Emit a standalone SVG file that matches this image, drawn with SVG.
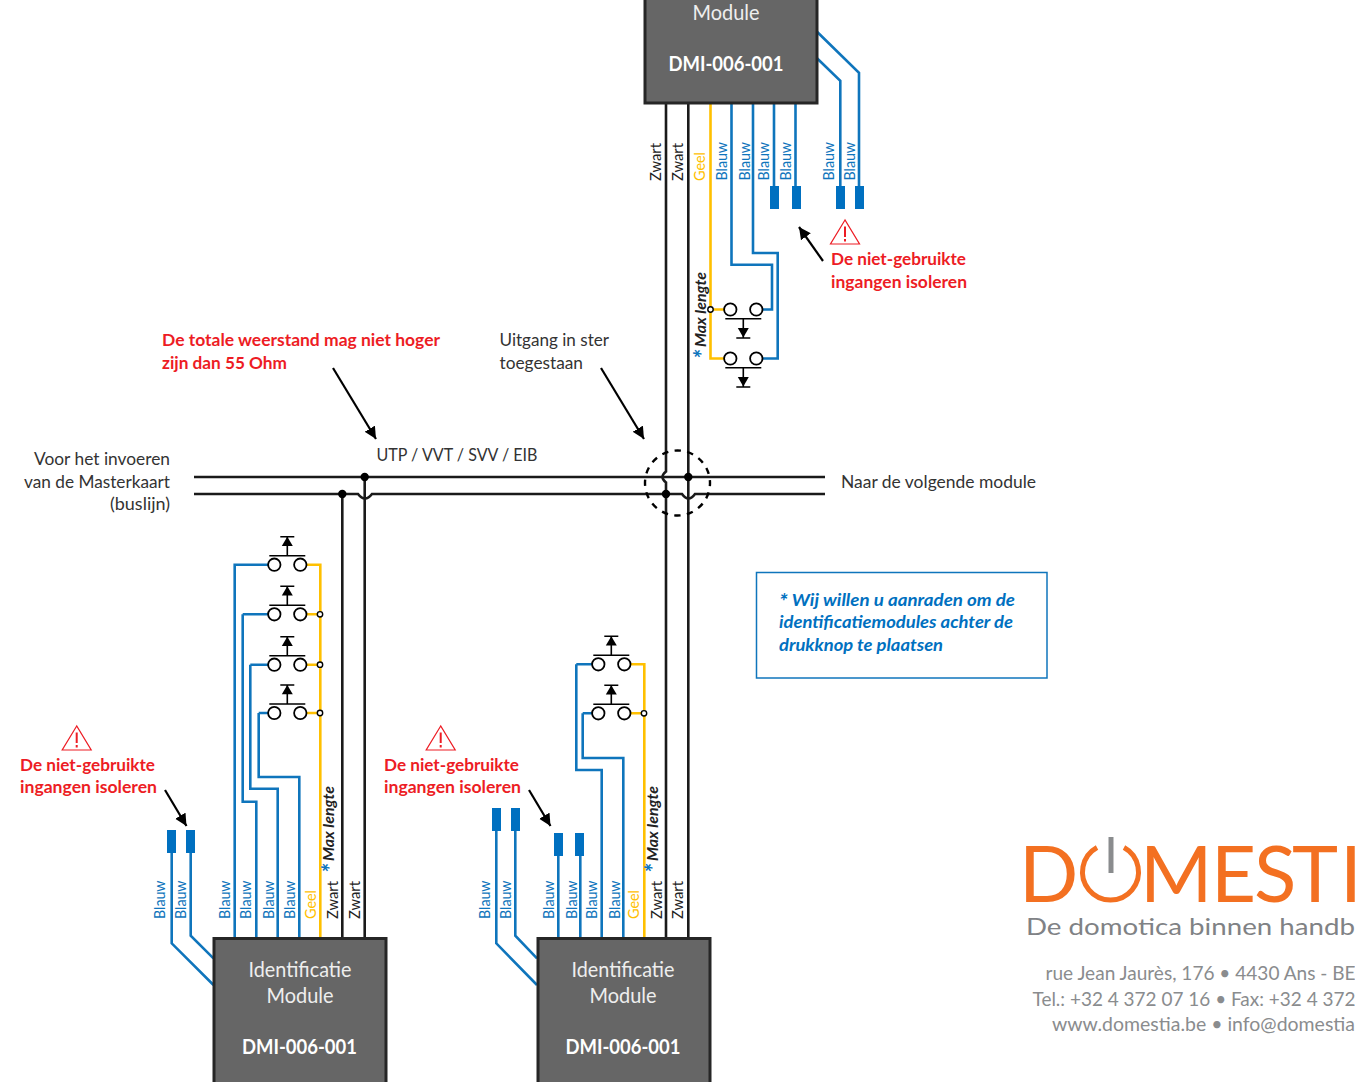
<svg xmlns="http://www.w3.org/2000/svg" xmlns:xlink="http://www.w3.org/1999/xlink" width="1355" height="1082" viewBox="0 0 1355 1082">
<style>
text{font-family:"Lato","Open Sans","Liberation Sans",sans-serif}
.w{fill:none;stroke-width:2.6;stroke-linejoin:miter}
.k{stroke:#1a1a1a}
.b{stroke:#0f75bc}
.y{stroke:#ffc000}
.cap{fill:#0070c0}
.mod{fill:#666;stroke:#262626;stroke-width:3}
.mt{fill:#eee;font-size:21px;text-anchor:middle}
.mb{fill:#fff;font-size:20.5px;font-weight:700;text-anchor:middle}
.t{fill:#333;font-size:17.5px}
.r{fill:#ed1c24;font-size:17.5px;font-weight:700}
.n{fill:#0070c0;font-size:17px;font-weight:700;font-style:italic}
.lb{font-size:15.5px;fill:#0f75bc}
.lk{font-size:15.5px;fill:#222}
.ly{font-size:15.5px;fill:#ffc000}
.ml{font-size:15px;font-weight:700;font-style:italic;fill:#222}
.st{font-size:24px;font-weight:700;font-style:italic;fill:#0f75bc}
.ar{fill:none;stroke:#000;stroke-width:2.2;marker-end:url(#ah)}
.j{fill:#fff;stroke:#000;stroke-width:1.4}
.g{fill:#8a8c8e;font-size:19px}
.o{fill:#f37021;font-size:78px;font-weight:400}
</style>
<defs>
<marker id="ah" markerUnits="userSpaceOnUse" markerWidth="14" markerHeight="14" refX="12" refY="6" orient="auto"><path d="M0 0L12 6L0 12z" fill="#000"/></marker>
<g id="swd"><circle cx="-13" cy="0" r="6.2" fill="#fff" stroke="#000" stroke-width="1.8"/><circle cx="13" cy="0" r="6.2" fill="#fff" stroke="#000" stroke-width="1.8"/><path d="M-18 9.3H18M0 9.3V28.5M-7 28.5H7" fill="none" stroke="#000" stroke-width="1.6"/><path d="M-5.5 18.5H5.5L0 28z" fill="#000"/></g>
<g id="swu"><circle cx="-13" cy="0" r="6.2" fill="#fff" stroke="#000" stroke-width="1.8"/><circle cx="13" cy="0" r="6.2" fill="#fff" stroke="#000" stroke-width="1.8"/><path d="M-18 -9H18M0 -9V-28M-7 -28H7" fill="none" stroke="#000" stroke-width="1.6"/><path d="M-5.5 -18.7H5.5L0 -28z" fill="#000"/></g>
<g id="warn"><path d="M0 0L-14.500 24H14.500z" fill="#fff" stroke="#ed1c24" stroke-width="1.200"/><path d="M0 6.500V17M0 19V21.500" fill="none" stroke="#ed1c24" stroke-width="2"/></g>
</defs>

<g id="connectors">
<path class="w k" d="M194 477H825"/>
<path class="w k" d="M194 494H358Q365 503 372 494H682Q688.500 503 695 494H825"/>
<path class="w k" d="M666 103V471.500Q659 477 666 482.500V938"/>
<path class="w k" d="M688.300 103V938"/>
<path class="w k" d="M364.700 477V938"/>
<path class="w k" d="M342.300 494V938"/>
<path class="w y" d="M710.500 103V358.500H724M710.500 309.500H724"/>
<path class="w b" d="M731.500 103V264.700H772V309.500H762"/>
<path class="w b" d="M753 103V253H777.700V358.500H762"/>
<path class="w b" d="M774 103V190M795.500 103V190"/>
<path class="w b" d="M817 31.700L859 72.700V190M817 58.300L840.300 80.700V190"/>
<path class="w b" d="M234.700 938V564.700H268M242.700 614.300H268M242.700 614.300V801.700H256.300V938M250.300 664.700H268M250.300 664.700V788.700H277.700V938M258.700 713H268M258.700 713V777H299.300V938"/>
<path class="w y" d="M307 564.700H320.300V938M307 614.300H320.300M307 664.700H320.300M307 713H320.300"/>
<path class="w b" d="M171.700 850V943.300L213.500 985M190.700 850V935.700L213.500 958.300"/>
<path class="w b" d="M576.300 664.300H592M576.300 664.300V770H601.700V938M582.700 713.300H592M582.700 713.300V758H623.300V938"/>
<path class="w y" d="M630 664.300H644.300V938M630 713.300H644.300"/>
<path class="w b" d="M496.300 828V943.300L537 985M515.300 828V935.700L537 958.300"/>
<path class="w b" d="M558.300 938V854M580.300 938V854"/>
<circle cx="677.500" cy="483" r="32.500" fill="none" stroke="#000" stroke-width="2.400" stroke-dasharray="6.400 6.363" stroke-dashoffset="3.200"/>
<g fill="#000"><circle cx="364.700" cy="477" r="4.200"/><circle cx="342.300" cy="494" r="4.200"/><circle cx="666" cy="494" r="4.200"/><circle cx="688.300" cy="477" r="4.200"/></g>
<circle class="j" cx="710.500" cy="309.500" r="2.700"/>
<circle class="j" cx="320" cy="614.300" r="2.700"/><circle class="j" cx="320" cy="664.700" r="2.700"/><circle class="j" cx="320" cy="713" r="2.700"/>
<circle class="j" cx="644" cy="713.300" r="2.700"/>
<path class="ar" d="M333 368L376 439"/>
<path class="ar" d="M601 368L644 439"/>
<path class="ar" d="M823 261L799 227"/>
<path class="ar" d="M165 790L186.500 826"/>
<path class="ar" d="M529 790L550.500 826"/>
</g>

<g id="caps">
<rect class="cap" x="770" y="186" width="9" height="23"/><rect class="cap" x="792" y="186" width="9" height="23"/><rect class="cap" x="836" y="186" width="9" height="23"/><rect class="cap" x="855" y="186" width="9" height="23"/>
<rect class="cap" x="167" y="830" width="9" height="23"/><rect class="cap" x="186" y="830" width="9" height="23"/>
<rect class="cap" x="492" y="808" width="9" height="23"/><rect class="cap" x="511" y="808" width="9" height="23"/>
<rect class="cap" x="554" y="833" width="9" height="23"/><rect class="cap" x="575" y="833" width="9" height="23"/>
</g>

<g id="switches">
<use xlink:href="#swd" href="#swd" x="743.300" y="309.500"/><use xlink:href="#swd" href="#swd" x="743.300" y="358.500"/>
<use xlink:href="#swu" href="#swu" x="287.300" y="564.700"/><use xlink:href="#swu" href="#swu" x="287.300" y="614.300"/><use xlink:href="#swu" href="#swu" x="287.300" y="664.700"/><use xlink:href="#swu" href="#swu" x="287.300" y="713"/>
<use xlink:href="#swu" href="#swu" x="611.300" y="664.300"/><use xlink:href="#swu" href="#swu" x="611.300" y="713.300"/>
</g>

<g id="module-top"><rect class="mod" x="645" y="-10" width="172" height="113"/>
<text class="mt" x="726" y="19.500" textLength="67" lengthAdjust="spacingAndGlyphs">Module</text>
<text class="mb" x="726" y="71" textLength="115" lengthAdjust="spacingAndGlyphs">DMI-006-001</text></g>
<g id="module-left"><rect class="mod" x="214" y="938.500" width="172" height="160"/>
<text class="mt" x="300" y="976.500" textLength="103" lengthAdjust="spacingAndGlyphs">Identificatie</text>
<text class="mt" x="300" y="1002.500" textLength="67" lengthAdjust="spacingAndGlyphs">Module</text>
<text class="mb" x="299.500" y="1054" textLength="115" lengthAdjust="spacingAndGlyphs">DMI-006-001</text></g>
<g id="module-right"><rect class="mod" x="538" y="938.500" width="172" height="160"/>
<text class="mt" x="623" y="976.500" textLength="103" lengthAdjust="spacingAndGlyphs">Identificatie</text>
<text class="mt" x="623" y="1002.500" textLength="67" lengthAdjust="spacingAndGlyphs">Module</text>
<text class="mb" x="623" y="1054" textLength="115" lengthAdjust="spacingAndGlyphs">DMI-006-001</text></g>

<g id="wire-labels">
<text class="lk" transform="translate(660.700 181) rotate(-90)" textLength="38" lengthAdjust="spacingAndGlyphs">Zwart</text>
<text class="lk" transform="translate(682.700 181) rotate(-90)" textLength="38" lengthAdjust="spacingAndGlyphs">Zwart</text>
<text class="ly" transform="translate(705 181) rotate(-90)" textLength="29" lengthAdjust="spacingAndGlyphs">Geel</text>
<text class="lb" transform="translate(727 180.500) rotate(-90)" textLength="38.500" lengthAdjust="spacingAndGlyphs">Blauw</text>
<text class="lb" transform="translate(750 180.500) rotate(-90)" textLength="38.500" lengthAdjust="spacingAndGlyphs">Blauw</text>
<text class="lb" transform="translate(768.500 180.500) rotate(-90)" textLength="38.500" lengthAdjust="spacingAndGlyphs">Blauw</text>
<text class="lb" transform="translate(790.700 180.500) rotate(-90)" textLength="38.500" lengthAdjust="spacingAndGlyphs">Blauw</text>
<text class="lb" transform="translate(834.300 180.500) rotate(-90)" textLength="38.500" lengthAdjust="spacingAndGlyphs">Blauw</text>
<text class="lb" transform="translate(855 180.500) rotate(-90)" textLength="38.500" lengthAdjust="spacingAndGlyphs">Blauw</text>
<text class="lb" transform="translate(165.300 919) rotate(-90)" textLength="38.500" lengthAdjust="spacingAndGlyphs">Blauw</text>
<text class="lb" transform="translate(186.300 919) rotate(-90)" textLength="38.500" lengthAdjust="spacingAndGlyphs">Blauw</text>
<text class="lb" transform="translate(230.300 919) rotate(-90)" textLength="38.500" lengthAdjust="spacingAndGlyphs">Blauw</text>
<text class="lb" transform="translate(251 919) rotate(-90)" textLength="38.500" lengthAdjust="spacingAndGlyphs">Blauw</text>
<text class="lb" transform="translate(274 919) rotate(-90)" textLength="38.500" lengthAdjust="spacingAndGlyphs">Blauw</text>
<text class="lb" transform="translate(295 919) rotate(-90)" textLength="38.500" lengthAdjust="spacingAndGlyphs">Blauw</text>
<text class="ly" transform="translate(315.700 919) rotate(-90)" textLength="29" lengthAdjust="spacingAndGlyphs">Geel</text>
<text class="lk" transform="translate(338.300 919) rotate(-90)" textLength="38" lengthAdjust="spacingAndGlyphs">Zwart</text>
<text class="lk" transform="translate(360 919) rotate(-90)" textLength="38" lengthAdjust="spacingAndGlyphs">Zwart</text>
<text class="lb" transform="translate(490.300 919) rotate(-90)" textLength="38.500" lengthAdjust="spacingAndGlyphs">Blauw</text>
<text class="lb" transform="translate(511 919) rotate(-90)" textLength="38.500" lengthAdjust="spacingAndGlyphs">Blauw</text>
<text class="lb" transform="translate(553.700 919) rotate(-90)" textLength="38.500" lengthAdjust="spacingAndGlyphs">Blauw</text>
<text class="lb" transform="translate(576.700 919) rotate(-90)" textLength="38.500" lengthAdjust="spacingAndGlyphs">Blauw</text>
<text class="lb" transform="translate(597.300 919) rotate(-90)" textLength="38.500" lengthAdjust="spacingAndGlyphs">Blauw</text>
<text class="lb" transform="translate(620 919) rotate(-90)" textLength="38.500" lengthAdjust="spacingAndGlyphs">Blauw</text>
<text class="ly" transform="translate(639.300 919) rotate(-90)" textLength="29" lengthAdjust="spacingAndGlyphs">Geel</text>
<text class="lk" transform="translate(662 919) rotate(-90)" textLength="38" lengthAdjust="spacingAndGlyphs">Zwart</text>
<text class="lk" transform="translate(683.300 919) rotate(-90)" textLength="38" lengthAdjust="spacingAndGlyphs">Zwart</text>
<text class="st" transform="translate(712 359) rotate(-90)">*</text>
<text class="ml" transform="translate(706 347) rotate(-90)" textLength="75" lengthAdjust="spacingAndGlyphs">Max lengte</text>
<text class="st" transform="translate(340 873) rotate(-90)">*</text>
<text class="ml" transform="translate(334 861) rotate(-90)" textLength="75" lengthAdjust="spacingAndGlyphs">Max lengte</text>
<text class="st" transform="translate(663 873) rotate(-90)">*</text>
<text class="ml" transform="translate(658 861) rotate(-90)" textLength="75" lengthAdjust="spacingAndGlyphs">Max lengte</text>
</g>

<g id="annotations">
<text class="r" x="162" y="346" textLength="278" lengthAdjust="spacingAndGlyphs">De totale weerstand mag niet hoger</text>
<text class="r" x="162" y="369" textLength="125" lengthAdjust="spacingAndGlyphs">zijn dan 55 Ohm</text>
<text class="t" x="499.500" y="346" textLength="109.500" lengthAdjust="spacingAndGlyphs">Uitgang in ster</text>
<text class="t" x="499.500" y="369" textLength="83.500" lengthAdjust="spacingAndGlyphs">toegestaan</text>
<text class="t" x="376.500" y="461" textLength="161" lengthAdjust="spacingAndGlyphs">UTP / VVT / SVV / EIB</text>
<text class="t" x="34" y="465" textLength="136" lengthAdjust="spacingAndGlyphs">Voor het invoeren</text>
<text class="t" x="24" y="488" textLength="146" lengthAdjust="spacingAndGlyphs">van de Masterkaart</text>
<text class="t" x="110" y="510" textLength="60" lengthAdjust="spacingAndGlyphs">(buslijn)</text>
<text class="t" x="841" y="488" textLength="195" lengthAdjust="spacingAndGlyphs">Naar de volgende module</text>
<use xlink:href="#warn" href="#warn" x="845" y="220"/>
<text class="r" x="831" y="265" textLength="135" lengthAdjust="spacingAndGlyphs">De niet-gebruikte</text>
<text class="r" x="831" y="288" textLength="136" lengthAdjust="spacingAndGlyphs">ingangen isoleren</text>
<use xlink:href="#warn" href="#warn" x="76.700" y="726"/>
<text class="r" x="20" y="771" textLength="135" lengthAdjust="spacingAndGlyphs">De niet-gebruikte</text>
<text class="r" x="20" y="793" textLength="137" lengthAdjust="spacingAndGlyphs">ingangen isoleren</text>
<use xlink:href="#warn" href="#warn" x="440.700" y="726"/>
<text class="r" x="384" y="771" textLength="135" lengthAdjust="spacingAndGlyphs">De niet-gebruikte</text>
<text class="r" x="384" y="793" textLength="137" lengthAdjust="spacingAndGlyphs">ingangen isoleren</text>
</g>

<g id="note"><rect x="756.500" y="572.500" width="290.500" height="105.500" fill="#fff" stroke="#0f75bc" stroke-width="1.500"/>
<text class="n" x="779" y="606" textLength="236" lengthAdjust="spacingAndGlyphs"><tspan font-size="20" dy="3">*</tspan><tspan dy="-3"> Wij willen u aanraden om de</tspan></text>
<text class="n" x="779" y="628" textLength="234" lengthAdjust="spacingAndGlyphs">identificatiemodules achter de</text>
<text class="n" x="779" y="651" textLength="164" lengthAdjust="spacingAndGlyphs">drukknop te plaatsen</text>
</g>

<g id="logo">
<text class="o" x="1019" y="902">D</text>
<path d="M1097 847.500A28 28 0 1 0 1124 847.500" fill="none" stroke="#f37021" stroke-width="5"/>
<path d="M1111 837V873" stroke="#8a8c8e" stroke-width="5" fill="none"/>
<text class="o" x="1140 1211 1254 1292 1340" y="902">MESTI</text>
<text x="1026" y="935" fill="#808285" font-size="24" textLength="329" lengthAdjust="spacingAndGlyphs">De domotica binnen handb</text>
<text class="g" x="1045.500" y="980" textLength="310" lengthAdjust="spacingAndGlyphs">rue Jean Jaurès, 176 • 4430 Ans - BE</text>
<text class="g" x="1032.500" y="1006" textLength="323" lengthAdjust="spacingAndGlyphs">Tel.: +32 4 372 07 16 • Fax: +32 4 372</text>
<text class="g" x="1052" y="1031" textLength="303" lengthAdjust="spacingAndGlyphs">www.domestia.be • info@domestia</text>
</g>
</svg>
